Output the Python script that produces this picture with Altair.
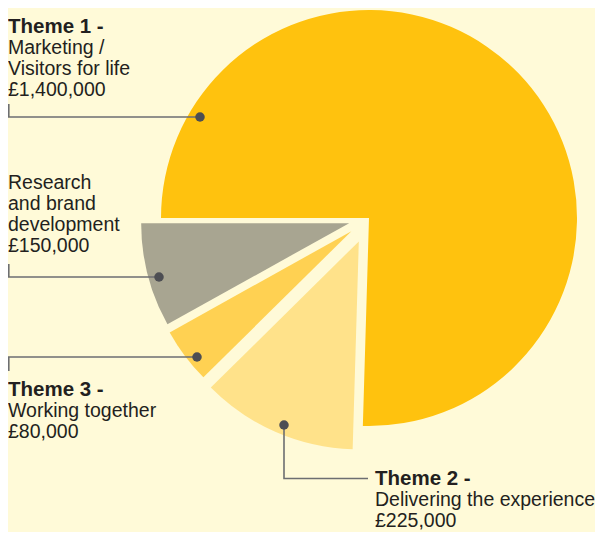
import altair as alt
import pandas as pd

# ---------------- data ----------------
CATEGORIES = ["Theme 1", "Theme 2", "Theme 3", "Research"]
VALUES = [1400000, 225000, 80000, 150000]
HEADS = ["Theme 1 -", "Theme 2 -", "Theme 3 -", ""]
DESCRIPTIONS = [
    ["Marketing /", "Visitors for life"],
    ["Delivering the experience"],
    ["Working together"],
    ["Research", "and brand", "development"],
]

# ---------------- style / layout ----------------
COLORS = ["#FFC20E", "#FFE28A", "#FFD152", "#A8A591"]
EXPLODE = [0, 25.5, 22, 20.5]          # px offset of each slice along its mid angle
BG = "#FFFAD8"
TEXT_COLOR = "#231F20"
LINE_COLOR = "#6D6E71"
DOT_COLOR = "#4D4E53"
W, H = 587, 524
CX, CY, R = 361, 210, 208
START = "1.5*PI"                      # first slice starts at 9 o'clock
LABEL_POS = [(0, 24.5), (367, 476.5), (0, 388.3), (0, 180.7)]
LINE_H = 21
DOTS = [(192, 109), (276, 417), (189, 349), (151, 269)]
LEADERS = [
    [(0.8, 96), (0.8, 109), (192, 109)],
    [(276, 417), (276, 470.5), (360, 470.5)],
    [(189, 349), (0.8, 349), (0.8, 363)],
    [(0.8, 256), (0.8, 269), (151, 269)],
]

pie_df = pd.DataFrame({"category": CATEGORIES, "value": VALUES, "idx": range(len(VALUES))})

pie = (
    alt.Chart(pie_df)
    .transform_joinaggregate(total="sum(value)")
    .transform_window(cum="sum(value)", frame=[None, 0], sort=[alt.SortField("idx")])
    .transform_calculate(
        t0=f"{START} + 2*PI*(datum.cum - datum.value)/datum.total",
        t1=f"{START} + 2*PI*datum.cum/datum.total",
        mid="(datum.t0 + datum.t1)/2",
        ex=f"{EXPLODE}[datum.idx]",
        cx=f"{CX} + datum.ex*sin(datum.mid)",
        cy=f"{CY} - datum.ex*cos(datum.mid)",
    )
    .mark_arc(radius=R)
    .encode(
        x=alt.X("cx:Q", scale=None, axis=None),
        y=alt.Y("cy:Q", scale=None, axis=None),
        theta=alt.Theta("t0:Q", scale=None),
        theta2=alt.Theta2("t1:Q"),
        color=alt.Color("category:N", scale=alt.Scale(domain=CATEGORIES, range=COLORS), legend=None),
    )
)

# leader lines
rows = []
for cat, pts in zip(CATEGORIES, LEADERS):
    for i, (px, py) in enumerate(pts):
        rows.append({"label": cat, "o": i, "px": px, "py": py})
lead_df = pd.DataFrame(rows)
leaders = (
    alt.Chart(lead_df)
    .mark_line(color=LINE_COLOR, strokeWidth=1.6)
    .encode(
        x=alt.X("px:Q", scale=None, axis=None),
        y=alt.Y("py:Q", scale=None, axis=None),
        detail="label:N",
        order="o:Q",
    )
)

dot_df = pd.DataFrame({"label": CATEGORIES, "px": [d[0] for d in DOTS], "py": [d[1] for d in DOTS]})
dots = (
    alt.Chart(dot_df)
    .mark_circle(size=90, color=DOT_COLOR, opacity=1)
    .encode(x=alt.X("px:Q", scale=None, axis=None), y=alt.Y("py:Q", scale=None, axis=None))
)

# labels
head_rows, body_rows = [], []
for cat, val, head, desc, (lx, ly) in zip(CATEGORIES, VALUES, HEADS, DESCRIPTIONS, LABEL_POS):
    lines = desc + [f"£{val:,}"]
    y = ly
    if head:
        head_rows.append({"t": head, "px": lx, "py": y})
        y += LINE_H
    for ln in lines:
        body_rows.append({"t": ln, "px": lx, "py": y})
        y += LINE_H

heads = (
    alt.Chart(pd.DataFrame(head_rows))
    .mark_text(align="left", baseline="alphabetic", font="Liberation Sans", fontSize=20.5,
               fontWeight="bold", color=TEXT_COLOR)
    .encode(x=alt.X("px:Q", scale=None, axis=None), y=alt.Y("py:Q", scale=None, axis=None), text="t:N")
)
bodies = (
    alt.Chart(pd.DataFrame(body_rows))
    .mark_text(align="left", baseline="alphabetic", font="Liberation Sans", fontSize=19.5,
               color=TEXT_COLOR)
    .encode(x=alt.X("px:Q", scale=None, axis=None), y=alt.Y("py:Q", scale=None, axis=None), text="t:N")
)

chart = (
    alt.layer(pie, leaders, dots, heads, bodies)
    .properties(width=W, height=H, padding=0, autosize="none", background=BG)
    .configure_view(strokeWidth=0)
)

chart.save("out.html", embed_options={"renderer": "svg", "actions": False})
